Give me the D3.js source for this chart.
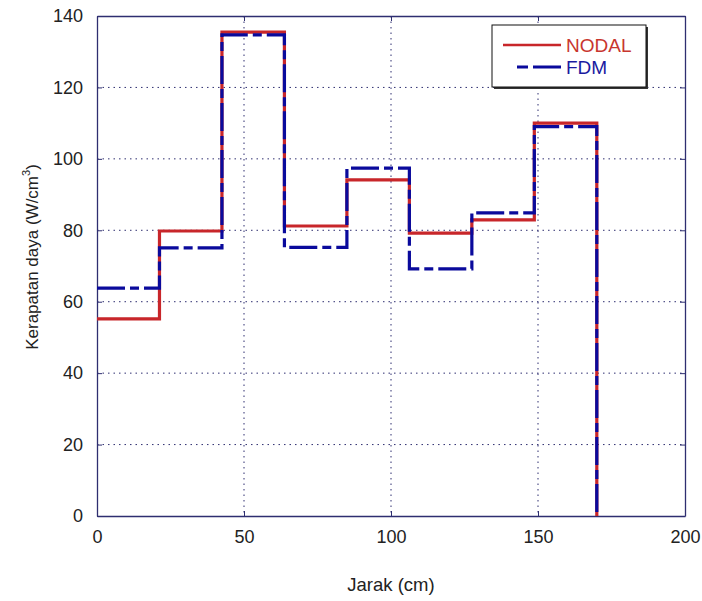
<!DOCTYPE html>
<html><head><meta charset="utf-8">
<script src="https://cdn.jsdelivr.net/npm/d3@7"></script>
<style>body{margin:0;background:#fff}svg{display:block;font-family:"Liberation Sans",Arial,sans-serif}</style>
</head><body>
<svg id="c" width="702" height="601"></svg>
<script>
const boundaries = [0, 21.25, 42.5, 63.75, 85, 106.25, 127.5, 148.75, 170];
const nodal = [55.2, 79.8, 135.5, 81.2, 94.1, 79.2, 82.9, 110.0];
const fdm = [63.8, 75.1, 134.7, 75.2, 97.4, 69.2, 84.9, 109.0];
const xTicks = [0, 50, 100, 150, 200];
const yTicks = [0, 20, 40, 60, 80, 100, 120, 140];
const seriesNames = ["NODAL", "FDM"];

const svg = d3.select("#c");
const L = 97, R = 685, T = 16, B = 516;
const x = d3.scaleLinear().domain([0, 200]).range([L, R]);
const y = d3.scaleLinear().domain([0, 140]).range([B, T]);
const axisCol = "#2e2e70";
const txtCol = "#222";
const fs = 18;

// grid
const g = svg.append("g");
g.selectAll(".gx").data(xTicks.slice(1, -1)).join("line")
  .attr("x1", d => x(d)).attr("x2", d => x(d)).attr("y1", T).attr("y2", B)
  .attr("stroke", axisCol).attr("stroke-width", 1).attr("stroke-dasharray", "1.5,4");
g.selectAll(".gy").data(yTicks.slice(1, -1)).join("line")
  .attr("y1", d => y(d)).attr("y2", d => y(d)).attr("x1", L).attr("x2", R)
  .attr("stroke", axisCol).attr("stroke-width", 1).attr("stroke-dasharray", "1.5,4");

// axes
const axB = svg.append("g").attr("transform", `translate(0,${B})`)
  .call(d3.axisBottom(x).tickValues(xTicks).tickSizeInner(-5).tickSizeOuter(0).tickPadding(14));
const axT = svg.append("g").attr("transform", `translate(0,${T})`)
  .call(d3.axisTop(x).tickValues(xTicks).tickSizeInner(-5).tickSizeOuter(0).tickFormat(""));
const axL = svg.append("g").attr("transform", `translate(${L},0)`)
  .call(d3.axisLeft(y).tickValues(yTicks).tickSizeInner(-5).tickSizeOuter(0).tickPadding(14));
const axR = svg.append("g").attr("transform", `translate(${R},0)`)
  .call(d3.axisRight(y).tickValues(yTicks).tickSizeInner(-5).tickSizeOuter(0).tickFormat(""));
[axB, axT, axL, axR].forEach(a => {
  a.selectAll("path").attr("stroke", axisCol).attr("stroke-width", 1.3);
  a.selectAll("line").attr("stroke", axisCol);
  a.selectAll("text").attr("fill", txtCol).attr("font-size", fs).attr("font-family", "'Liberation Sans',Arial,sans-serif");
});

// series
function pts(vals) {
  const p = vals.map((v, i) => [boundaries[i], v]);
  p.push([boundaries[boundaries.length - 1], vals[vals.length - 1]]);
  p.push([boundaries[boundaries.length - 1], 0]);
  return p;
}
const line = d3.line().x(d => x(d[0])).y(d => y(d[1])).curve(d3.curveStepAfter);
svg.append("path").attr("d", line(pts(nodal))).attr("fill", "none")
  .attr("stroke", "#c8262a").attr("stroke-width", 3.2);
svg.append("path").attr("d", line(pts(fdm))).attr("fill", "none")
  .attr("stroke", "#0a0a9c").attr("stroke-width", 3.2).attr("stroke-dasharray", "28,5,9,5");

// axis labels
svg.append("text").attr("x", x(100)).attr("y", 591).attr("text-anchor", "middle")
  .attr("font-size", fs + 0.5).attr("fill", txtCol).text("Jarak (cm)");
const yl = svg.append("text").attr("transform", `translate(38,257) rotate(-90)`)
  .attr("text-anchor", "middle").attr("font-size", 17).attr("fill", txtCol);
yl.append("tspan").text("Kerapatan daya (W/cm");
yl.append("tspan").attr("font-size", 11).attr("dy", -8).text("3");
yl.append("tspan").attr("dy", 8).text(")");

// legend
const lg = svg.append("g");
lg.append("rect").attr("x", 494).attr("y", 27).attr("width", 154).attr("height", 62).attr("fill", "#333");
lg.append("rect").attr("x", 492).attr("y", 25).attr("width", 154).attr("height", 62)
  .attr("fill", "#fff").attr("stroke", "#111").attr("stroke-width", 1);
const lcols = ["#c8262a", "#0a0a9c"];
const tcols = ["#c8362e", "#1a1aa0"];
const ly = [45, 67];
seriesNames.forEach((n, i) => {
  const yy = ly[i];
  lg.append("line").attr("x1", 503).attr("x2", 561).attr("y1", yy).attr("y2", yy)
    .attr("stroke", lcols[i]).attr("stroke-width", i ? 3.2 : 2.4)
    .attr("stroke-dasharray", i ? "0,14,11,5,29,100" : null);
  lg.append("text").attr("x", 566).attr("y", yy + 7).attr("font-size", 19).attr("fill", tcols[i]).text(n);
});
</script>
</body></html>
